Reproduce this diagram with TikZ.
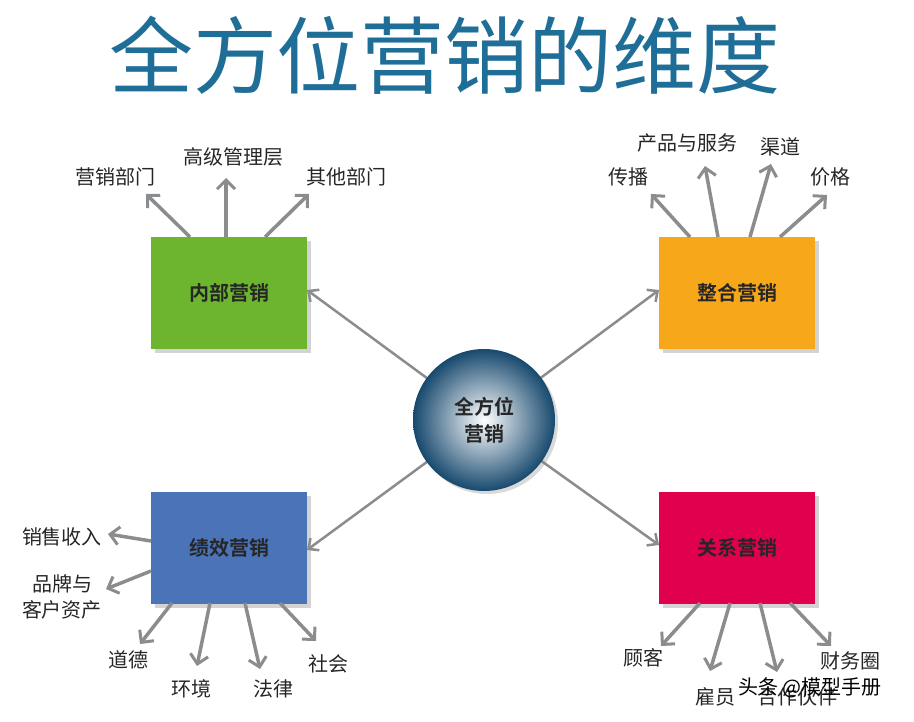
\documentclass[tikz,border=0pt]{standalone}
\usepackage{fontspec}
\setmainfont{Noto Sans CJK SC}
\newfontfamily\boldcjk{Noto Sans CJK SC Bold}
\usetikzlibrary{arrows.meta,shadows}
\definecolor{ttl}{HTML}{1F6E98}
\definecolor{gar}{HTML}{8A8C8E}
\definecolor{cg}{HTML}{6DB52F}
\definecolor{co}{HTML}{F6A81A}
\definecolor{cb}{HTML}{4A73B8}
\definecolor{cr}{HTML}{E0004D}
\definecolor{ball}{HTML}{17496E}
\begin{document}
\begin{tikzpicture}[x=1pt,y=-1pt,
  box/.style={minimum width=156pt,minimum height=112pt,inner sep=0pt,font=\boldcjk\fontsize{20}{24}\selectfont,text=black!85,drop shadow={shadow xshift=4pt,shadow yshift=-4pt,opacity=0.35}},
  lab/.style={font=\fontsize{20}{24}\selectfont,text=black!85,inner sep=1pt,align=center},
  arr/.style={draw=gar,line width=3.5pt,-{Straight Barb[length=9pt,width=18pt,line width=3pt]}},
  inarr/.style={draw=gar,line width=2.5pt,-{Straight Barb[length=8pt,width=15pt,line width=2.5pt]}}]
\useasboundingbox (0,0) rectangle (914,722);
\node[font=\fontsize{84}{90}\selectfont,text=ttl] (title) at (445,55) {全方位营销的维度};
\node[box,fill=cg] (g) at (229,293) {内部营销};
\node[box,fill=co] (o) at (737,293) {整合营销};
\node[box,fill=cb] (b) at (229,548) {绩效营销};
\node[box,fill=cr] (r) at (737,548) {关系营销};
\coordinate (c0) at (484,420);
\draw[inarr] (c0) -- (307,290);
\draw[inarr] (c0) -- (659,290);
\draw[inarr] (c0) -- (307,550);
\draw[inarr] (c0) -- (659,545);
\node[circle,minimum size=142pt,inner sep=0pt,inner color=white,outer color=ball,drop shadow={shadow xshift=3pt,shadow yshift=-3pt,opacity=0.3},align=center,font=\boldcjk\fontsize{20}{27}\selectfont,text=black!85] (c) at (c0) {全方位\\营销};
% labels
\node[lab] (l1) at (115,177) {营销部门};
\node[lab] (l2) at (233,157) {高级管理层};
\node[lab] (l3) at (346,177) {其他部门};
\node[lab] (l4) at (628,177) {传播};
\node[lab] (l5) at (687,143) {产品与服务};
\node[lab] (l6) at (780,147) {渠道};
\node[lab] (l7) at (830,177) {价格};
\node[lab] (l8) at (62,537) {销售收入};
\node[lab,font=\fontsize{20}{26}\selectfont] (l9) at (62,597) {品牌与\\客户资产};
\node[lab] (l10) at (128,660) {道德};
\node[lab] (l11) at (191,689) {环境};
\node[lab] (l12) at (273,689) {法律};
\node[lab] (l13) at (328,664) {社会};
\node[lab] (l14) at (643,658) {顾客};
\node[lab] (l15) at (715,697) {雇员};
\node[lab] (l16) at (797,697) {合作伙伴};
\node[lab] (l17) at (850,661) {财务圈};
\node[font=\fontsize{20}{24}\selectfont,text=black] (wm) at (810,688) {头条 @模型手册};
% arrows
\coordinate (a1) at (190,237); \coordinate (e1) at (146,194); \draw[arr] (a1) -- (e1);
\coordinate (a2) at (226,237); \coordinate (e2) at (226,178); \draw[arr] (a2) -- (e2);
\coordinate (a3) at (265,237); \coordinate (e3) at (309,194); \draw[arr] (a3) -- (e3);
\coordinate (a4) at (690,237); \coordinate (e4) at (651,194); \draw[arr] (a4) -- (e4);
\coordinate (a5) at (718,237); \coordinate (e5) at (705,166); \draw[arr] (a5) -- (e5);
\coordinate (a6) at (750,237); \coordinate (e6) at (771,164); \draw[arr] (a6) -- (e6);
\coordinate (a7) at (780,237); \coordinate (e7) at (827,195); \draw[arr] (a7) -- (e7);
\coordinate (a8) at (151,541); \coordinate (e8) at (108,534); \draw[arr] (a8) -- (e8);
\coordinate (a9) at (151,571); \coordinate (e9) at (106,589); \draw[arr] (a9) -- (e9);
\coordinate (a10) at (172,603); \coordinate (e10) at (140,644); \draw[arr] (a10) -- (e10);
\coordinate (a11) at (210,603); \coordinate (e11) at (197,666); \draw[arr] (a11) -- (e11);
\coordinate (a12) at (245,603); \coordinate (e12) at (260,669); \draw[arr] (a12) -- (e12);
\coordinate (a13) at (280,603); \coordinate (e13) at (316,641); \draw[arr] (a13) -- (e13);
\coordinate (a14) at (700,603); \coordinate (e14) at (661,646); \draw[arr] (a14) -- (e14);
\coordinate (a15) at (730,603); \coordinate (e15) at (710,671); \draw[arr] (a15) -- (e15);
\coordinate (a16) at (760,603); \coordinate (e16) at (777,672); \draw[arr] (a16) -- (e16);
\coordinate (a17) at (790,603); \coordinate (e17) at (831,646); \draw[arr] (a17) -- (e17);
\end{tikzpicture}
\end{document}
